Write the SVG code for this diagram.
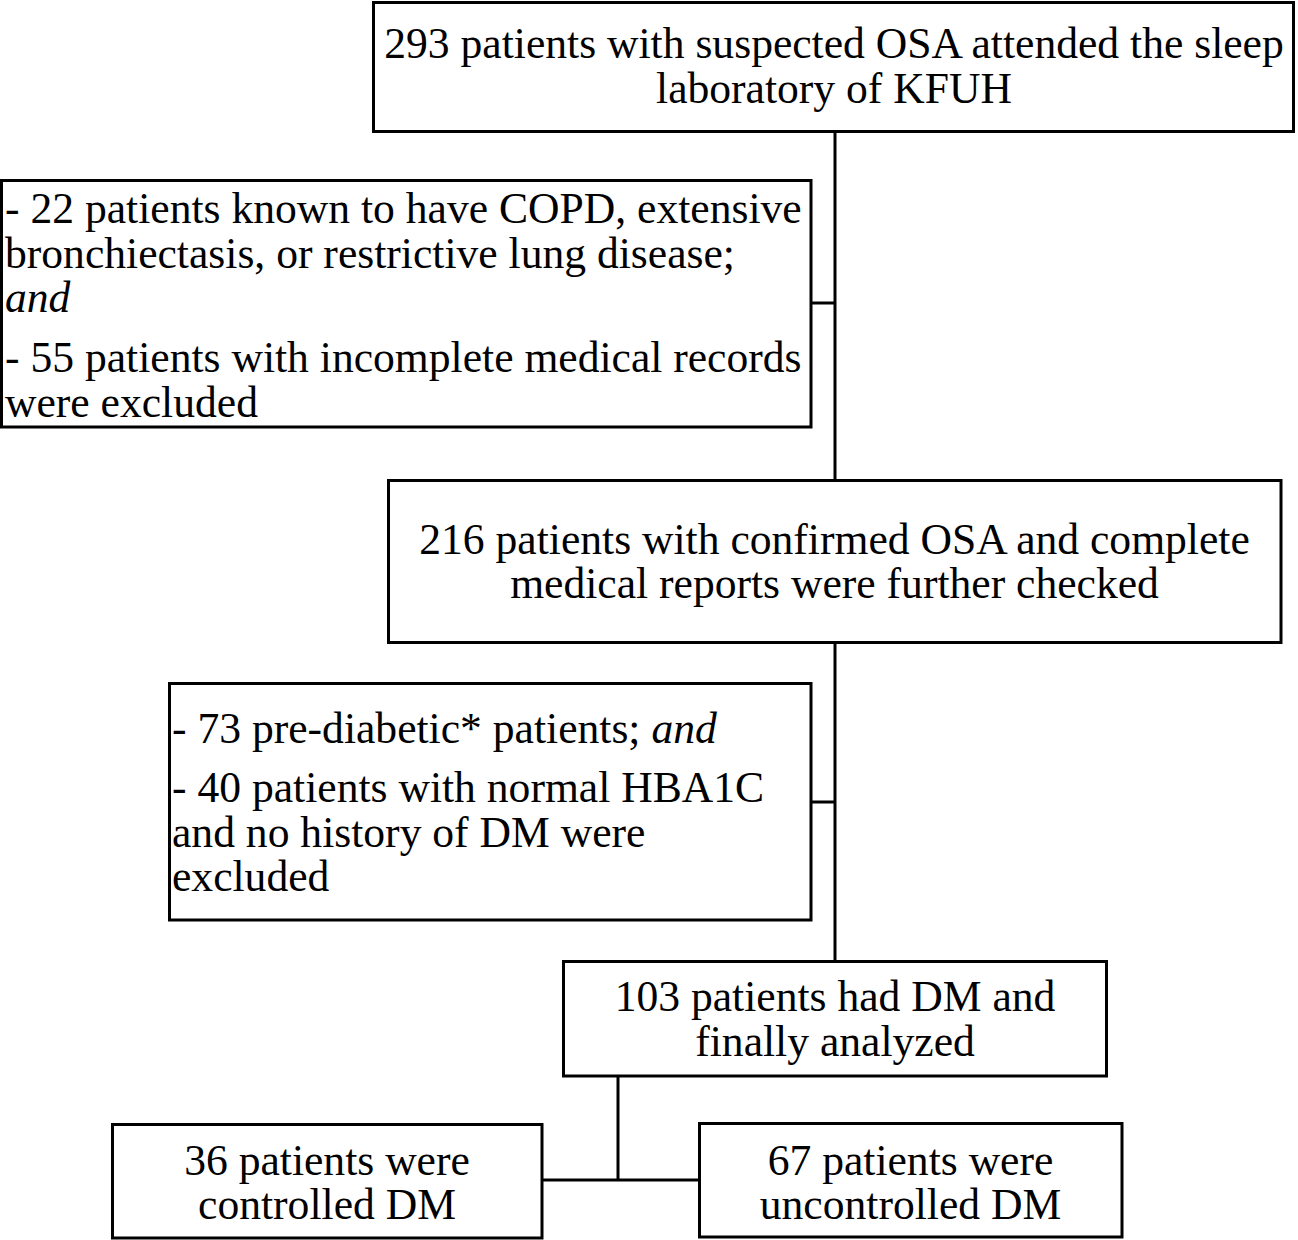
<svg xmlns="http://www.w3.org/2000/svg" width="1298" height="1240" viewBox="0 0 1298 1240">
<style>
.box{fill:#fff;stroke:#000;stroke-width:3}
.ln{fill:none;stroke:#000;stroke-width:3}
text{font-family:"Liberation Serif","Times New Roman",serif;font-size:43.6px;fill:#000}
.c{text-anchor:middle}
.i{font-style:italic}
</style>
<rect width="1298" height="1240" fill="#fff"/>
<g id="connectors">
<path class="ln" d="M835 132 V480 M811 303 H835 M835 643 V961 M811 802 H835 M618 1076 V1180 M542 1180 H699"/>
</g>
<g id="n1">
<rect class="box" x="373.500" y="2.500" width="920" height="129"/>
<text class="c" x="834" y="58">293 patients with suspected OSA attended the sleep</text>
<text class="c" x="834" y="103">laboratory of KFUH</text>
</g>
<g id="n2">
<rect class="box" x="1.500" y="180.500" width="809.500" height="246.500"/>
<text x="5" y="223">- 22 patients known to have COPD, extensive</text>
<text x="5" y="268">bronchiectasis, or restrictive lung disease;</text>
<text class="i" x="5" y="312">and</text>
<text x="5" y="372">- 55 patients with incomplete medical records</text>
<text x="5" y="417">were excluded</text>
</g>
<g id="n3">
<rect class="box" x="388.500" y="480.500" width="892.500" height="162"/>
<text class="c" x="834.500" y="554">216 patients with confirmed OSA and complete</text>
<text class="c" x="834.500" y="598">medical reports were further checked</text>
</g>
<g id="n4">
<rect class="box" x="169.500" y="683.500" width="641.500" height="236.500"/>
<text x="172" y="743">- 73 pre-diabetic* patients; <tspan class="i">and</tspan></text>
<text x="172" y="802">- 40 patients with normal HBA1C</text>
<text x="172" y="847">and no history of DM were</text>
<text x="172" y="891">excluded</text>
</g>
<g id="n5">
<rect class="box" x="563.500" y="961.500" width="543" height="114.500"/>
<text class="c" x="835" y="1011">103 patients had DM and</text>
<text class="c" x="835" y="1056">finally analyzed</text>
</g>
<g id="n6">
<rect class="box" x="112.500" y="1124.500" width="429.500" height="113.500"/>
<text class="c" x="327" y="1175">36 patients were</text>
<text class="c" x="327" y="1219">controlled DM</text>
</g>
<g id="n7">
<rect class="box" x="699.500" y="1123.500" width="422.500" height="113.500"/>
<text class="c" x="910.500" y="1175">67 patients were</text>
<text class="c" x="910.500" y="1219">uncontrolled DM</text>
</g>
</svg>
